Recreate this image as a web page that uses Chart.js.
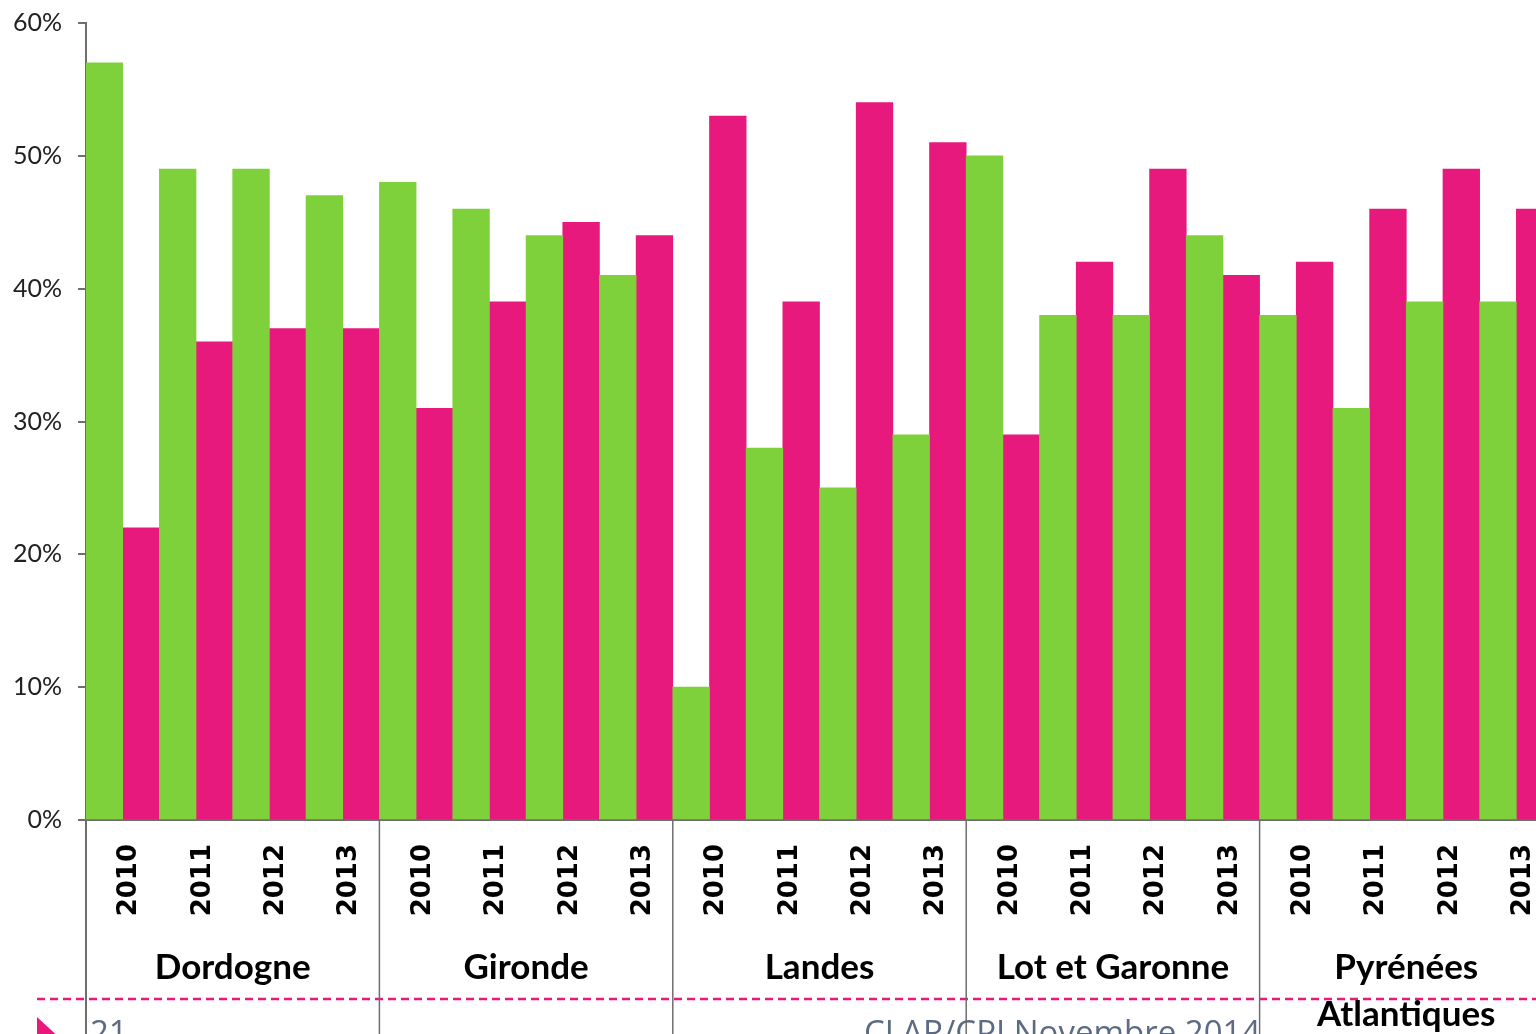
<!DOCTYPE html>
<html>
<head>
<meta charset="utf-8">
<script src="https://cdn.jsdelivr.net/npm/chart.js@4/dist/chart.umd.min.js"></script>
<style>
html,body{margin:0;padding:0;background:#fff;overflow:hidden;width:1536px;height:1034px;}
#wrap{position:relative;width:1553px;height:1034px;}
</style>
</head>
<body>
<div id="wrap"><canvas id="c" width="1553" height="1034"></canvas></div>
<script>
const groups = ["Dordogne", "Gironde", "Landes", "Lot et Garonne", "Pyrénées Atlantiques"];
const years = ["2010", "2011", "2012", "2013"];
const greenValues = [57, 49, 49, 47,  48, 46, 44, 41,  10, 28, 25, 29,  50, 38, 38, 44,  38, 31, 39, 39];
const pinkValues  = [22, 36, 37, 37,  31, 39, 45, 44,  53, 39, 54, 51,  29, 42, 49, 41,  42, 46, 49, 46];
const yTicks = [0, 10, 20, 30, 40, 50, 60];
const footerLeft = "21";
const footerText = "CLAR/CPI Novembre 2014";

const labels = [];
groups.forEach(() => years.forEach(y => labels.push(y)));

const GREEN = "#7ed13b";
const PINK = "#e8197c";
const AXIS = "#6e6e6e";

const decor = {
  id: "decor",
  afterDraw(chart) {
    const ctx = chart.ctx;
    const xs = chart.scales.x;
    const area = chart.chartArea;
    const H = chart.height;
    const step = (xs.getPixelForTick(1) - xs.getPixelForTick(0));
    ctx.save();
    // footer text (clipped behind last group region)
    ctx.save();
    ctx.beginPath();
    ctx.rect(0, 0, xs.getPixelForTick(16) - step / 2 - 2, H);
    ctx.clip();
    ctx.fillStyle = "#5d6b82";
    ctx.font = "33px 'Open Sans', sans-serif";
    ctx.textBaseline = "alphabetic";
    ctx.textAlign = "left";
    ctx.fillText(footerLeft, 90, 1044);
    ctx.fillText(footerText, 864, 1044);
    ctx.restore();
    // dashed line
    ctx.strokeStyle = PINK;
    ctx.lineWidth = 2.3;
    ctx.setLineDash([8, 5]);
    ctx.beginPath();
    ctx.moveTo(37, 999);
    ctx.lineTo(1540, 999);
    ctx.stroke();
    ctx.setLineDash([]);
    // triangle
    ctx.fillStyle = PINK;
    ctx.beginPath();
    ctx.moveTo(37, 1017);
    ctx.lineTo(62, 1040);
    ctx.lineTo(37, 1063);
    ctx.closePath();
    ctx.fill();
    // group dividers and labels
    ctx.strokeStyle = AXIS;
    groups.forEach((g, gi) => {
      const first = gi * years.length;
      const last = first + years.length - 1;
      const left = xs.getPixelForTick(first) - step / 2;
      ctx.lineWidth = gi === 0 ? 2 : 1.5;
      ctx.beginPath();
      ctx.moveTo(left, area.bottom);
      ctx.lineTo(left, H);
      ctx.stroke();
      const cx = (xs.getPixelForTick(first) + xs.getPixelForTick(last)) / 2;
      ctx.fillStyle = "#000";
      ctx.font = "bold 35px Lato, sans-serif";
      ctx.textAlign = "center";
      ctx.textBaseline = "middle";
      const parts = g === "Pyrénées Atlantiques" ? ["Pyrénées", "Atlantiques"] : [g];
      parts.forEach((p, pi) => ctx.fillText(p, cx, 968 + pi * 47));
    });
    ctx.restore();
  }
};

new Chart(document.getElementById("c"), {
  type: "bar",
  data: {
    labels: labels,
    datasets: [
      { label: "A", data: greenValues, backgroundColor: GREEN, borderWidth: 0, barPercentage: 1, categoryPercentage: 1 },
      { label: "B", data: pinkValues, backgroundColor: PINK, borderWidth: 0, barPercentage: 1, categoryPercentage: 1 }
    ]
  },
  options: {
    responsive: false,
    animation: false,
    devicePixelRatio: 1,
    layout: { padding: { top: 23, right: 0, left: 0, bottom: 0 } },
    plugins: { legend: { display: false }, tooltip: { enabled: false } },
    scales: {
      x: {
        grid: { display: true, drawOnChartArea: false, drawTicks: false, color: "rgba(0,0,0,0)" },
        border: { display: true, color: AXIS, width: 2 },
        ticks: {
          autoSkip: false, maxRotation: 90, minRotation: 90, padding: 24, labelOffset: 7,
          color: "#000",
          font: { family: "'DejaVu Sans', sans-serif", size: 26, weight: "bold" }
        },
        afterFit(s) { s.height = 214; s.paddingLeft = 0; s.paddingRight = 0; }
      },
      y: {
        min: 0, max: 60,
        afterBuildTicks(s) { s.ticks = yTicks.map(v => ({ value: v })); },
        grid: { display: true, drawOnChartArea: false, drawTicks: true, tickLength: 8, color: AXIS, lineWidth: 2 },
        border: { display: true, color: AXIS, width: 2 },
        ticks: {
          padding: 16, color: "#222",
          font: { family: "Lato, sans-serif", size: 25 },
          callback: v => v + "%"
        },
        afterFit(s) { s.width = 86; s.paddingTop = 0; s.paddingBottom = 0; }
      }
    }
  },
  plugins: [decor]
});
</script>
</body>
</html>
